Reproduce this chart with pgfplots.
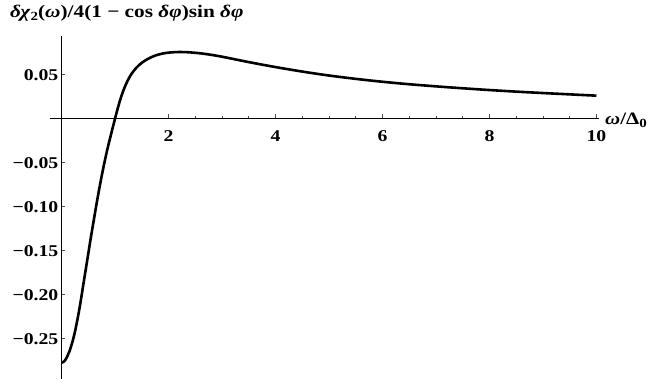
\documentclass[border=0pt]{standalone}
\usepackage{fontspec}
\setmainfont{Liberation Serif}[FakeStretch=1.2]
\usepackage{pgfplots}
\pgfplotsset{compat=1.18}

\newcommand{\tickfont}{\fontsize{16.5}{18}\selectfont\bfseries}

\begin{document}
\begin{tikzpicture}
\begin{axis}[
    at={(0,0)}, anchor=origin,
    scale only axis,
    width=548.6bp, height=342.8bp,
    axis lines=middle,
    xmin=-0.215, xmax=10.04,
    ymin=-0.296, ymax=0.0935,
    xtick={2,4,6,8,10},
    xticklabels={2,4,6,8,10},
    ytick={-0.25,-0.20,-0.15,-0.10,-0.05,0.05},
    yticklabels={−0.25,−0.20,−0.15,−0.10,−0.05,0.05},
    minor x tick num=3,
    minor y tick num=4,
    tick align=inside,
    major tick length=4bp,
    minor tick length=2.5bp,
    tick style={black!70, line width=0.5bp},
    axis line style={black, line width=0.7bp, -},
    xticklabel style={font=\tickfont, anchor=north, inner sep=0pt, yshift=-12bp},
    yticklabel style={font=\tickfont, anchor=east, inner sep=0pt, xshift=-3bp, yshift=-1bp},
    clip=false,
]
\addplot[black, line width=2.6bp, smooth, tension=0.5] coordinates {
    (0,-0.2777) (0.05,-0.2762) (0.10,-0.2715) (0.15,-0.2645) (0.20,-0.2550)
    (0.25,-0.2430) (0.30,-0.2280) (0.35,-0.2110) (0.40,-0.1920) (0.45,-0.1730)
    (0.50,-0.1540) (0.55,-0.1350) (0.60,-0.1170) (0.65,-0.0990) (0.70,-0.0820)
    (0.75,-0.0660) (0.80,-0.0510) (0.85,-0.0372) (0.90,-0.0245) (0.95,-0.0125)
    (1.00,-0.0005) (1.05,0.0110) (1.10,0.0215) (1.15,0.0305) (1.20,0.0380)
    (1.25,0.0443) (1.30,0.0497) (1.40,0.0575) (1.50,0.0630) (1.60,0.0670)
    (1.70,0.0700) (1.80,0.0722) (1.90,0.0737) (2.00,0.0746) (2.10,0.0751)
    (2.20,0.0753) (2.30,0.0752) (2.40,0.0749) (2.60,0.0738) (2.80,0.0721)
    (3.00,0.0700) (3.30,0.0663) (3.60,0.0627) (4.00,0.0582) (4.50,0.0531)
    (5.00,0.0486) (5.50,0.0448) (6.00,0.0415) (6.50,0.0387) (7.00,0.0363)
    (7.50,0.0341) (8.00,0.0321) (8.50,0.0303) (9.00,0.0287) (9.50,0.0272)
    (10.00,0.0257)
};
\end{axis}
\node[anchor=west, inner sep=0pt, font=\fontsize{17.8}{20}\selectfont\bfseries]
    at (-51.5bp,105.3bp)
    {\textit{δχ}\raisebox{-0.35ex}{\fontsize{12.5}{12.5}\selectfont 2}(\textit{ω})/4(1 − cos \textit{δφ})sin \textit{δφ}};
\node[anchor=west, inner sep=0pt, font=\fontsize{17.5}{19}\selectfont\bfseries]
    at (543.5bp,-1.7bp)
    {\textit{ω}/Δ\raisebox{-0.35ex}{\fontsize{12.5}{12.5}\selectfont 0}};
\useasboundingbox (-61.5bp,-260.7bp) rectangle (592.5bp,118.3bp);
\end{tikzpicture}
\end{document}
